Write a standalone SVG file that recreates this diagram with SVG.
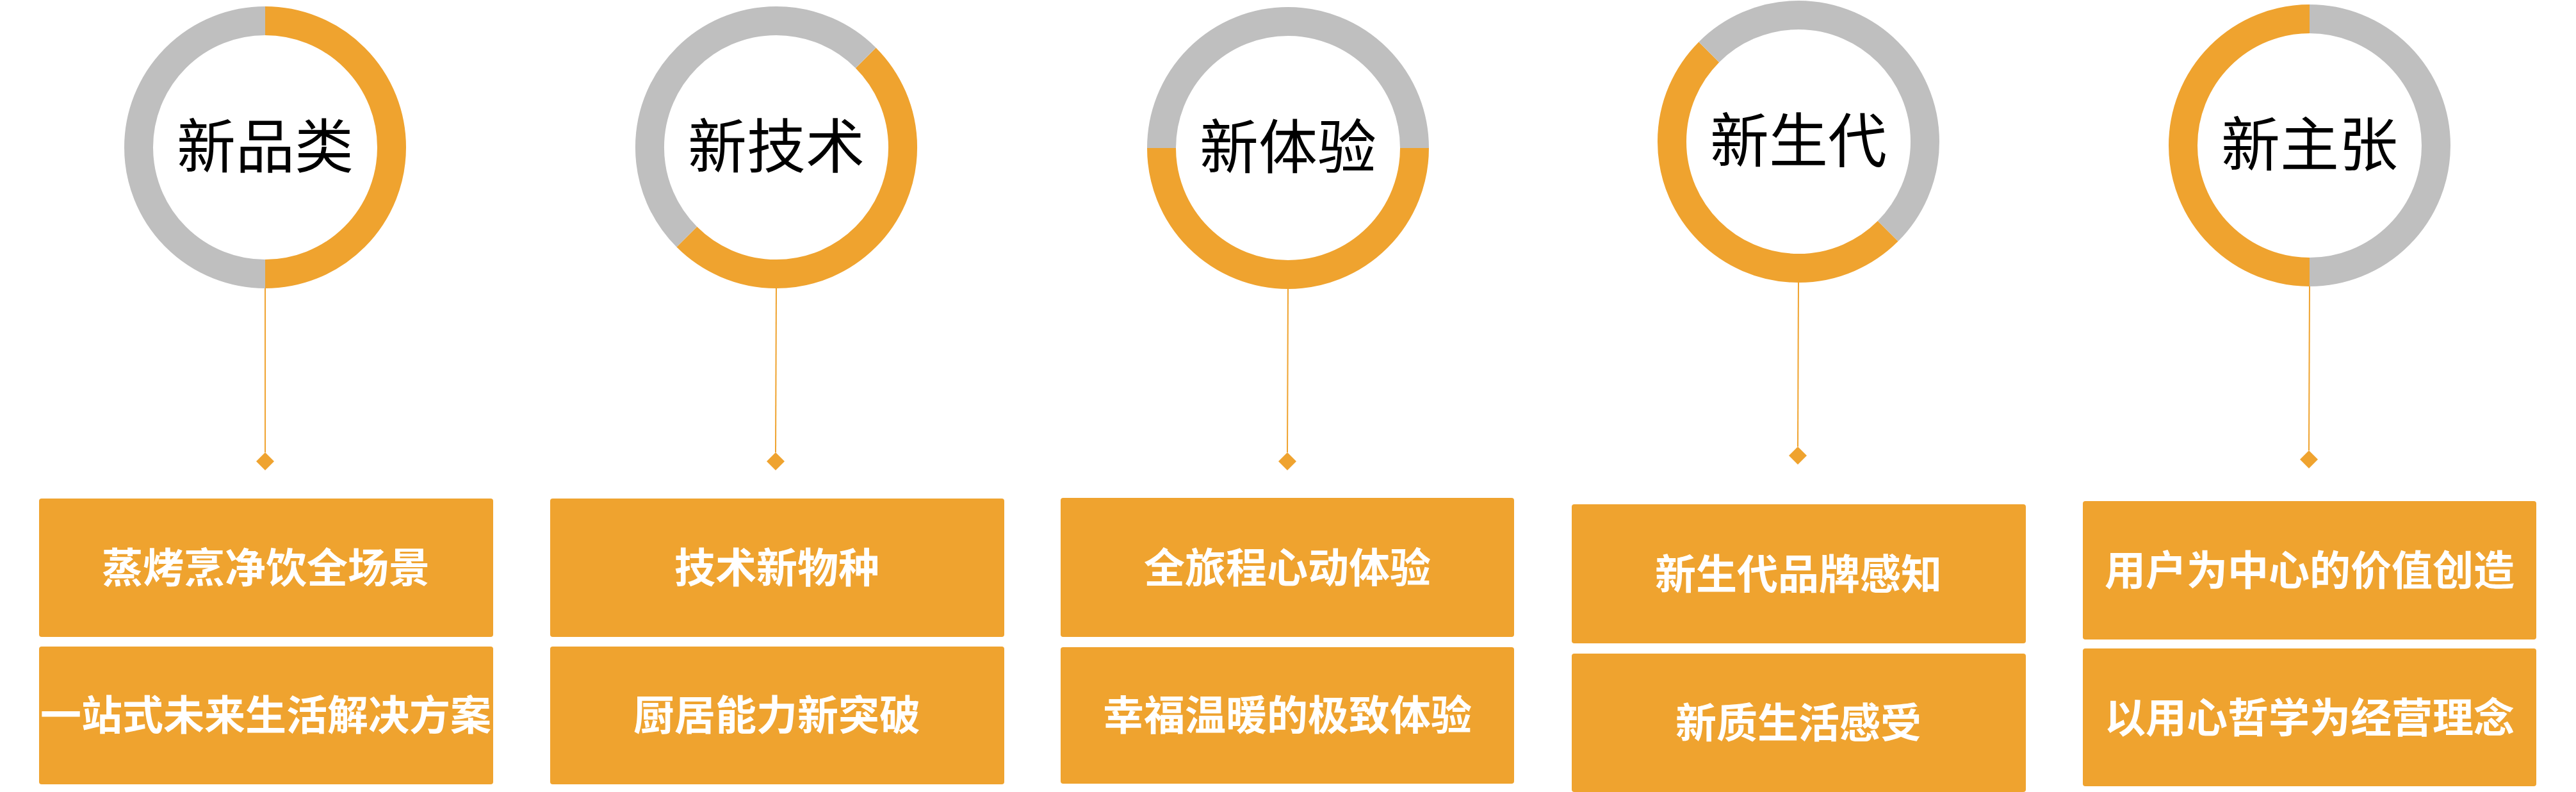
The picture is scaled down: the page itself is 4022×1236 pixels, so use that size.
<svg xmlns="http://www.w3.org/2000/svg" width="4022" height="1236" viewBox="0 0 4022 1236">
<style>
.o{fill:none;stroke:#EFA32F;stroke-width:45}
.g{fill:none;stroke:#BFBFBF;stroke-width:45}
.t{font-family:"Liberation Sans","Noto Sans CJK SC",sans-serif;font-size:92px;fill:#000;text-anchor:middle}
.b{fill:#EFA32F}
.bt{font-family:"Liberation Sans","Noto Sans CJK SC",sans-serif;font-size:64px;font-weight:bold;fill:#fff;text-anchor:middle}
.l{stroke:#EFA32F;stroke-width:2;fill:none}
.d{fill:#EFA32F}
</style>
<rect width="4022" height="1236" fill="#fff"/>
<g id="connectors">
<line class="l" x1="414" y1="450" x2="414" y2="706"/><path class="d" d="M414 706 L428 720 L414 734 L400 720Z"/>
<line class="l" x1="1212" y1="450" x2="1211" y2="706"/><path class="d" d="M1211 706 L1225 720 L1211 734 L1197 720Z"/>
<line class="l" x1="2011" y1="451" x2="2010" y2="706"/><path class="d" d="M2010 706 L2024 720 L2010 734 L1996 720Z"/>
<line class="l" x1="2808" y1="441" x2="2807" y2="697"/><path class="d" d="M2807 697 L2821 711 L2807 725 L2793 711Z"/>
<line class="l" x1="3606" y1="447" x2="3605" y2="703"/><path class="d" d="M3605 703 L3619 717 L3605 731 L3591 717Z"/>
</g>
<g id="n1">
<path class="o" d="M414 32.5 A197.5 197.5 0 0 1 414 427.5"/>
<path class="g" d="M414 427.5 A197.5 197.5 0 0 1 414 32.5"/>
<text class="t" x="414" y="262">新品类</text>
</g>
<g id="n2">
<path class="o" d="M1351.7 90.3 A197.5 197.5 0 0 1 1072.3 369.7"/>
<path class="g" d="M1072.3 369.7 A197.5 197.5 0 0 1 1351.7 90.3"/>
<text class="t" x="1212" y="262">新技术</text>
</g>
<g id="n3">
<path class="o" d="M2208.5 231 A197.5 197.5 0 0 1 1813.5 231"/>
<path class="g" d="M1813.5 231 A197.5 197.5 0 0 1 2208.5 231"/>
<text class="t" x="2011" y="263">新体验</text>
</g>
<g id="n4">
<path class="o" d="M2947.7 360.7 A197.5 197.5 0 0 1 2668.3 81.3"/>
<path class="g" d="M2668.3 81.3 A197.5 197.5 0 0 1 2947.7 360.7"/>
<text class="t" x="2808" y="253">新生代</text>
</g>
<g id="n5">
<path class="o" d="M3606 424.5 A197.5 197.5 0 0 1 3606 29.5"/>
<path class="g" d="M3606 29.5 A197.5 197.5 0 0 1 3606 424.5"/>
<text class="t" x="3606" y="259">新主张</text>
</g>
<g id="b1a"><rect class="b" x="61" y="778" width="709" height="216" rx="4"/><text class="bt" x="415" y="909">蒸烤烹净饮全场景</text></g>
<g id="b1b"><rect class="b" x="61" y="1009" width="709" height="215" rx="4"/><text class="bt" x="415" y="1139">一站式未来生活解决方案</text></g>
<g id="b2a"><rect class="b" x="859" y="778" width="709" height="216" rx="4"/><text class="bt" x="1213" y="909">技术新物种</text></g>
<g id="b2b"><rect class="b" x="859" y="1009" width="709" height="215" rx="4"/><text class="bt" x="1213" y="1139">厨居能力新突破</text></g>
<g id="b3a"><rect class="b" x="1656" y="777" width="708" height="217" rx="4"/><text class="bt" x="2010" y="909">全旅程心动体验</text></g>
<g id="b3b"><rect class="b" x="1656" y="1010" width="708" height="213" rx="4"/><text class="bt" x="2010" y="1139">幸福温暖的极致体验</text></g>
<g id="b4a"><rect class="b" x="2454" y="787" width="709" height="217" rx="4"/><text class="bt" x="2808" y="919">新生代品牌感知</text></g>
<g id="b4b"><rect class="b" x="2454" y="1020" width="709" height="216" rx="4"/><text class="bt" x="2808" y="1151">新质生活感受</text></g>
<g id="b5a"><rect class="b" x="3252" y="782" width="708" height="216" rx="4"/><text class="bt" x="3606" y="913">用户为中心的价值创造</text></g>
<g id="b5b"><rect class="b" x="3252" y="1012" width="708" height="215" rx="4"/><text class="bt" x="3606" y="1143">以用心哲学为经营理念</text></g>
</svg>
